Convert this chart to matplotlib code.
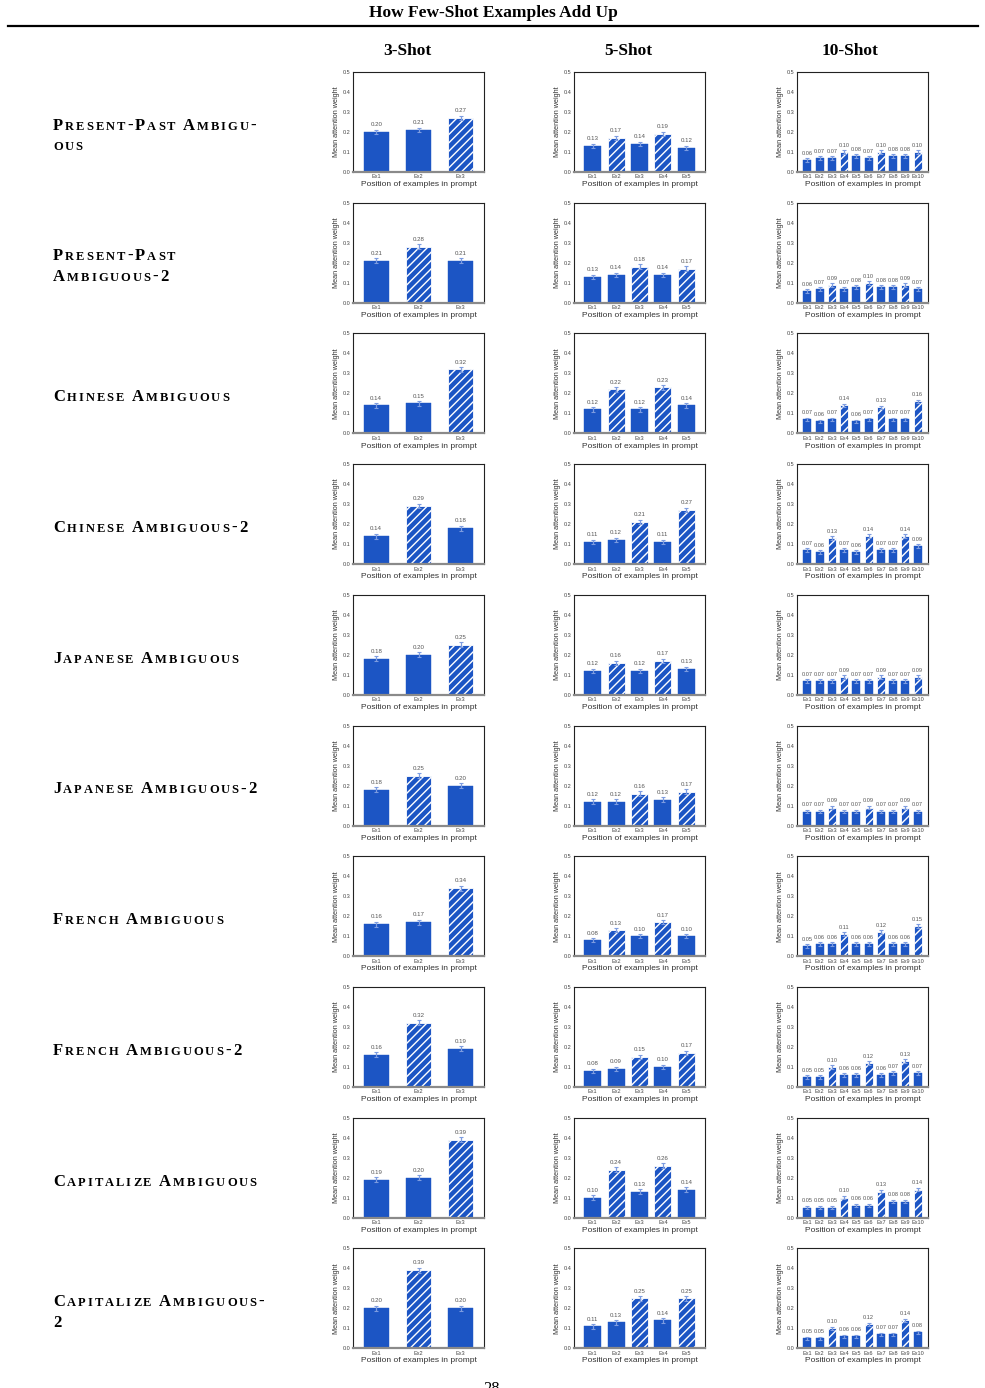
import numpy as np
import matplotlib
matplotlib.use("Agg")
import matplotlib.pyplot as plt
from matplotlib.font_manager import FontProperties

# ---------------- data ----------------
row_labels = [
    ["Present-Past Ambigu-", "ous"],
    ["Present-Past", "Ambiguous-2"],
    ["Chinese Ambiguous"],
    ["Chinese Ambiguous-2"],
    ["Japanese Ambiguous"],
    ["Japanese Ambiguous-2"],
    ["French Ambiguous"],
    ["French Ambiguous-2"],
    ["Capitalize Ambiguous"],
    ["Capitalize Ambiguous-", "2"],
]
shot_titles = ["3-Shot", "5-Shot", "10-Shot"]

vals_3shot = [
    [0.20, 0.21, 0.27],
    [0.21, 0.28, 0.21],
    [0.14, 0.15, 0.32],
    [0.14, 0.29, 0.18],
    [0.18, 0.20, 0.25],
    [0.18, 0.25, 0.20],
    [0.16, 0.17, 0.34],
    [0.16, 0.32, 0.19],
    [0.19, 0.20, 0.39],
    [0.20, 0.39, 0.20],
]
vals_5shot = [
    [0.13, 0.17, 0.14, 0.19, 0.12],
    [0.13, 0.14, 0.18, 0.14, 0.17],
    [0.12, 0.22, 0.12, 0.23, 0.14],
    [0.11, 0.12, 0.21, 0.11, 0.27],
    [0.12, 0.16, 0.12, 0.17, 0.13],
    [0.12, 0.12, 0.16, 0.13, 0.17],
    [0.08, 0.13, 0.10, 0.17, 0.10],
    [0.08, 0.09, 0.15, 0.10, 0.17],
    [0.10, 0.24, 0.13, 0.26, 0.14],
    [0.11, 0.13, 0.25, 0.14, 0.25],
]
vals_10shot = [
    [0.06, 0.07, 0.07, 0.10, 0.08, 0.07, 0.10, 0.08, 0.08, 0.10],
    [0.06, 0.07, 0.09, 0.07, 0.08, 0.10, 0.08, 0.08, 0.09, 0.07],
    [0.07, 0.06, 0.07, 0.14, 0.06, 0.07, 0.13, 0.07, 0.07, 0.16],
    [0.07, 0.06, 0.13, 0.07, 0.06, 0.14, 0.07, 0.07, 0.14, 0.09],
    [0.07, 0.07, 0.07, 0.09, 0.07, 0.07, 0.09, 0.07, 0.07, 0.09],
    [0.07, 0.07, 0.09, 0.07, 0.07, 0.09, 0.07, 0.07, 0.09, 0.07],
    [0.05, 0.06, 0.06, 0.11, 0.06, 0.06, 0.12, 0.06, 0.06, 0.15],
    [0.05, 0.05, 0.10, 0.06, 0.06, 0.12, 0.06, 0.07, 0.13, 0.07],
    [0.05, 0.05, 0.05, 0.10, 0.06, 0.06, 0.13, 0.08, 0.08, 0.14],
    [0.05, 0.05, 0.10, 0.06, 0.06, 0.12, 0.07, 0.07, 0.14, 0.08],
]
# hatched (ambiguous-target) positions: variant 1 vs variant 2
hatched_v1 = {3: [2], 5: [1, 3], 10: [3, 6, 9]}
hatched_v2 = {3: [1], 5: [2, 4], 10: [2, 5, 8]}
err_by_shot = {3: 0.012, 5: 0.011, 10: 0.009}

# ---------------- layout ----------------
W, H = 985, 1388
fig = plt.figure(figsize=(W / 100, H / 100), dpi=100)
fig.patch.set_facecolor("white")

SERIF = ["Liberation Serif", "DejaVu Serif"]
SANS = ["Liberation Sans", "DejaVu Sans"]
BLUE = "#1c55c4"
ERRC = "#7d9ce0"
TXT = "#444444"

fig.text(493 / W, 1 - 13 / H, "How Few-Shot Examples Add Up", ha="center", va="center",
         fontsize=12.5, fontweight="bold", family=SERIF)
fig.add_artist(plt.Line2D([8 / W, 978 / W], [1 - 26 / H, 1 - 26 / H], color="black", lw=1.6))

col_left = [353, 574, 797]
col_w = 131
row_top0 = 72
row_step = 130.7
ax_h = 100

header_x = [407, 628, 850]
for c, t in enumerate(shot_titles):
    fig.text(header_x[c] / W, 1 - 51 / H, t, ha="center", va="center",
             fontsize=12.5, fontweight="bold", family=SERIF)

xlims = {3: (-0.55, 2.55), 5: (-0.8, 4.8), 10: (-0.85, 9.85)}
widths = {3: 0.6, 5: 0.72, 10: 0.66}
vfs = {3: 4.4, 5: 4.4, 10: 4.1}

plt.rcParams["hatch.linewidth"] = 1.0

renderer = fig.canvas.get_renderer()
BIG, SMALL = 12.0, 9.0
TRACK = 2.0   # px
WORDSP = 5.5  # px
LINE_H = 21   # px
prop_big = FontProperties(family=SERIF, weight="bold", size=BIG)
prop_small = FontProperties(family=SERIF, weight="bold", size=SMALL)


def draw_smallcaps(lines, x0, yc):
    n = len(lines)
    ys = [yc - (n - 1) * LINE_H / 2 + i * LINE_H for i in range(n)]
    for line, y in zip(lines, ys):
        x = x0
        for ch in line:
            if ch == " ":
                x += WORDSP
                continue
            prop = prop_small if ch.islower() else prop_big
            s = ch.upper()
            fig.text(x / W, 1 - (y + 6) / H, s, fontproperties=prop, color="#000000",
                     ha="left", va="baseline")
            w, h, d = renderer.get_text_width_height_descent(s, prop, ismath=False)
            x += w + TRACK


all_vals = {3: vals_3shot, 5: vals_5shot, 10: vals_10shot}
for r in range(len(row_labels)):
    top = row_top0 + row_step * r
    variant2 = (r % 2 == 1)
    hatched = hatched_v2 if variant2 else hatched_v1

    draw_smallcaps(row_labels[r], 53, top + 62)

    for c, n in enumerate([3, 5, 10]):
        ax = fig.add_axes([col_left[c] / W, 1 - (top + ax_h) / H, col_w / W, ax_h / H])
        vals = all_vals[n][r]
        x = np.arange(n)
        err = err_by_shot[n]
        for i in range(n):
            if i in hatched[n]:
                ax.bar(x[i], vals[i], width=widths[n], color=BLUE, edgecolor="white",
                       hatch="////", linewidth=0.6, zorder=2)
            else:
                ax.bar(x[i], vals[i], width=widths[n], color=BLUE, edgecolor=BLUE,
                       linewidth=0.3, zorder=2)
        ax.errorbar(x, vals, yerr=err, fmt="none", ecolor=ERRC, elinewidth=0.9,
                    capsize=1.2, capthick=0.8, zorder=3)
        for i in range(n):
            ax.text(x[i], vals[i] + err + 0.012, f"{vals[i]:.2f}", ha="center", va="bottom",
                    fontsize=vfs[n], color="#555555", family=SANS)
        ax.set_xlim(*xlims[n])
        ax.set_ylim(0, 0.5)
        ax.set_yticks([0.0, 0.1, 0.2, 0.3, 0.4, 0.5])
        ax.set_yticklabels(["0.0", "0.1", "0.2", "0.3", "0.4", "0.5"], family=SANS)
        ax.set_xticks(x)
        ax.set_xticklabels([f"Ex{i + 1}" for i in range(n)], family=SANS)
        ax.tick_params(axis="both", length=0, labelsize=4, colors=TXT, pad=1.8)
        ax.set_ylabel("Mean attention weight", fontsize=5.2, color="#333333", labelpad=2,
                      family=SANS)
        ax.set_xlabel("Position of examples in prompt", fontsize=6, color="#333333",
                      labelpad=1.2, family=SANS)
        for s in ["left", "top", "right"]:
            ax.spines[s].set_color("#222222")
            ax.spines[s].set_linewidth(0.8)
        ax.spines["bottom"].set_color("#8a8a8a")
        ax.spines["bottom"].set_linewidth(1.6)
        ax.set_facecolor("white")

fig.text(492 / W, 1 - 1389 / H, "28", ha="center", va="center", fontsize=12, family=SERIF)

fig.savefig("out.png", dpi=100, facecolor="white")
